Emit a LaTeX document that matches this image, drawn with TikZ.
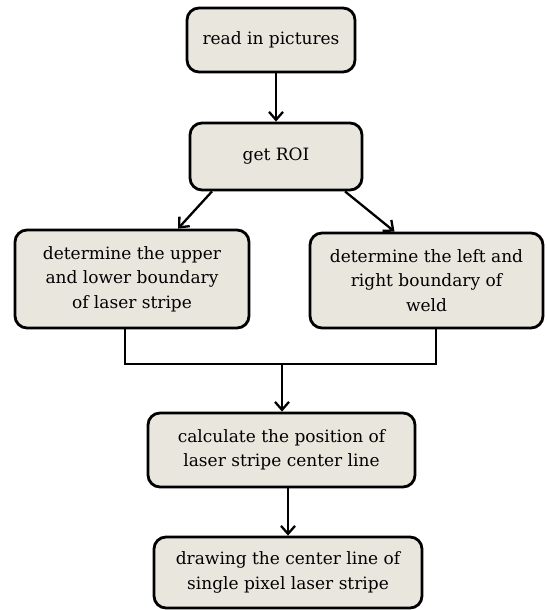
\documentclass[tikz,border=0pt]{standalone}
\usepackage{fontspec}
\setmainfont{DejaVu Serif}
\usepackage{tikz}
\usetikzlibrary{calc,arrows.meta}
\definecolor{boxfill}{RGB}{233,230,221}
\tikzset{
	stepbox/.style={draw=black, fill=boxfill, line width=2.8pt, rounded corners=12pt, align=center, inner sep=0pt, font=\fontsize{17}{24.5}\selectfont},
	flow/.style={line width=2.3pt, -{Straight Barb[length=8pt,width=14pt,line width=2.3pt]}},
	link/.style={line width=2.3pt}
}

\begin{document}
\begin{tikzpicture}[x=1pt, y=-1pt]
		%%%%% START %%%%%
		\useasboundingbox (0, 0) rectangle (546, 610);
		
		\node[stepbox, minimum width=168pt, minimum height=64pt] (read) at (271, 40) {read in pictures};
		\node[stepbox, minimum width=172pt, minimum height=67pt] (roi) at (276, 156.5) {get ROI};
		
		\node[stepbox, minimum width=234pt, minimum height=98pt] (updown) at (132, 279) {determine the upper\\and lower boundary\\of laser stripe};
		\node[stepbox, minimum width=233pt, minimum height=95pt] (leftright) at (426.5, 280.5) {determine the left and\\right boundary of\\weld};
		
		\node[stepbox, minimum width=267pt, minimum height=74pt] (center) at (281.5, 450) {calculate the position of\\laser stripe center line};
		\node[stepbox, minimum width=268pt, minimum height=71pt] (single) at (288, 572.5) {drawing the center line of\\single pixel laser stripe};
		
		\coordinate (join) at (282, 364);
		
		\draw[flow] (read.south -| roi) -- (roi.north);
		\draw[flow] ($(roi.south)+(-64, 0)$) -- ($(updown.north)+(46, 0)$);
		\draw[flow] ($(roi.south)+(69, 0)$) -- ($(leftright.north)+(-32, 0)$);
		
		\draw[link] ($(updown.south)+(-7, 0)$) |- (join) -| ($(leftright.south)+(9.5, 0)$);
		\draw[flow] (join) -- (join |- center.north);
		
		\draw[flow] (center.south -| single) -- (single.north);
		%%%%% END %%%%%
	\end{tikzpicture}
\end{document}
